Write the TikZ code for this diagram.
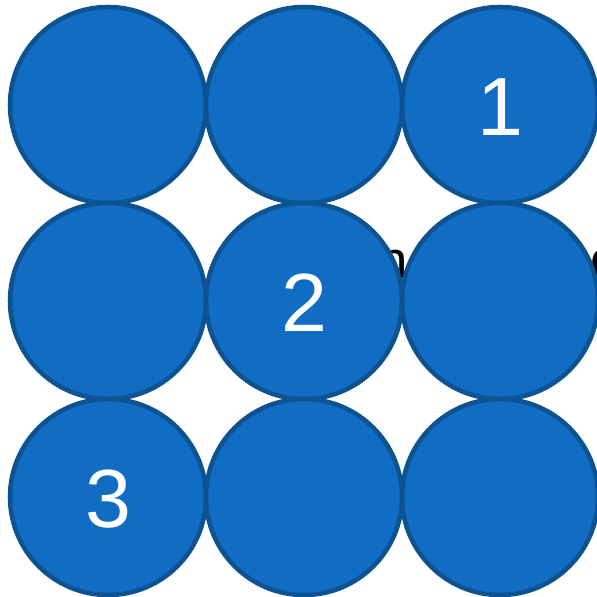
\documentclass[tikz,border=0pt]{standalone}
\usepackage{fontspec}
\setmainfont{Liberation Sans}
\definecolor{discfill}{RGB}{17,108,196}
\definecolor{discline}{RGB}{13,83,145}
\tikzset{
  disc/.style={circle, draw=discline, fill=discfill, line width=2.6pt,
    minimum size=3.92cm, inner sep=0pt, text=white,
    font=\fontsize{47}{47}\selectfont},
  hidden/.style={text=black, inner sep=0pt, font=\fontsize{30}{30}\selectfont}
}
\begin{document}
\begin{tikzpicture}[x=0.02cm, y=-0.02cm]
  \fill[white] (0,0) rectangle (596,597);
  \useasboundingbox (0,0) rectangle (596,597);
  % text behind the discs
  \node[hidden] (wordA) at (393,264) {n};
  \node[hidden] (wordB) at (604,264) {c};
  % the grid of discs
  \foreach \r/\y in {1/105, 2/301, 3/497}{
    \foreach \c/\x in {1/108, 2/304, 3/500}{
      \node[disc] (d-\r-\c) at (\x,\y) {};
    }
  }
  \foreach \t/\r/\c in {1/1/3, 2/2/2, 3/3/1}{
    \node[text=white, font=\fontsize{47}{47}\selectfont] (n-\t) at ([yshift=-0.04cm]d-\r-\c) {\t};
  }
\end{tikzpicture}
\end{document}
